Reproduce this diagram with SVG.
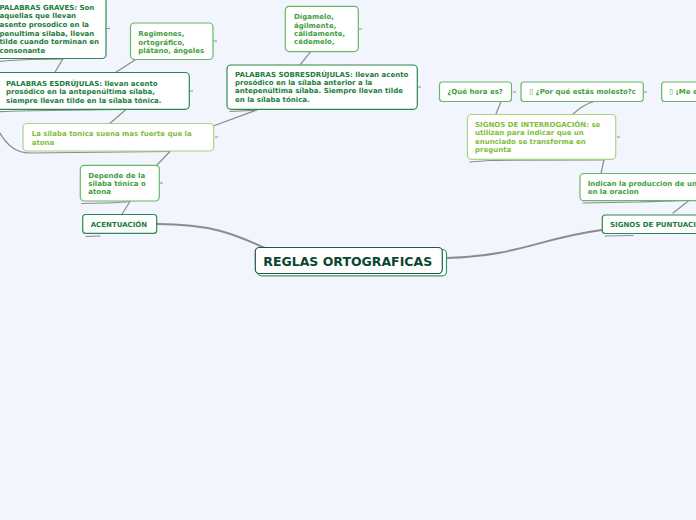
<svg xmlns="http://www.w3.org/2000/svg" width="696" height="520" viewBox="0 0 696 520">
<style>
text{font-family:"DejaVu Sans",Verdana,sans-serif;font-weight:bold;font-size:7px}
.dk rect{fill:#fff;stroke:#2a8a4e;stroke-width:1.2}
.dk text{fill:#1b7d3d}
.md rect{fill:#fff;stroke:#66b866;stroke-width:1.2}
.md text{fill:#3f9f40}
.lt rect{fill:#fff;stroke:#a9d482;stroke-width:1.2}
.lt text{fill:#82bd3a}
.c path{fill:none;stroke:#8c8c8c;stroke-width:1.2;stroke-linecap:round}
.c .main{stroke-width:2}
.tk{stroke:#8c8c8c;stroke-width:1}
</style>
<rect width="696" height="520" fill="#f2f5fe"/>
<g id="connectors" class="c">
<path class="main" d="M157,224 C215,224 238,236 265,248"/>
<path class="main" d="M446,258 C520,256 540,238 602,230"/>
<path d="M86,236.5 L100,236"/>
<path d="M605,236 L633,235.5"/>
<path d="M673,213 L689,200.5"/>
<path d="M583,203 L640,202 C665,201 680,201 689,200"/>
<path d="M601,173 L604,160"/>
<path d="M470,162 L490,160.5 C500,160 600,160 604,160"/>
<path d="M496,114 L501,101.5"/>
<path d="M573,114 C580,108 585,104 594,101.5"/>
<path d="M122,214 L130,201.5"/>
<path d="M82,203.5 L106,203 C120,202.5 126,202 130,201.5"/>
<path d="M157,165 L170,151.5"/>
<path d="M-4,126 C6,146 16,153 30,153 L170,151.5"/>
<path d="M110,123.3 L126,109.5"/>
<path d="M-4,112 C5,111 20,110.5 126,109.5"/>
<path d="M214,125.7 L256.7,110"/>
<path d="M230,111.5 L256.7,110"/>
<path d="M55,72.3 L62.7,59"/>
<path d="M-4,62 C5,60 20,59.5 62.7,59"/>
<path d="M115,72.7 L135,60"/>
<path d="M300.7,64 L310.7,51.7"/>
</g>
<g id="ticks">
<path class="tk" d="M107,28.5h3M214,41h3M190,91h3M215,137h3M160,183h3M359,29h3M418,87h3M513,92h3M644,92h3M617,137h3"/>
</g>
<g id="n-graves" class="dk">
<rect x="-8" y="-3" width="114" height="61.5" rx="4"/>
<text><tspan x="-0.5" y="9.8">PALABRAS GRAVES: Son</tspan><tspan x="-0.5" y="18.4">aquellas que llevan</tspan><tspan x="-0.5" y="27">asento prosodico en la</tspan><tspan x="-0.5" y="35.6">penultima silaba, llevan</tspan><tspan x="-0.5" y="44.2">tilde cuando terminan en</tspan><tspan x="-0.5" y="52.8">consonante</tspan></text>
</g>
<g id="n-regimenes" class="md">
<rect x="130.5" y="23" width="82.5" height="36.5" rx="4"/>
<text><tspan x="138.3" y="36.2">Regimenes,</tspan><tspan x="138.3" y="44.7">ortográfico,</tspan><tspan x="138.3" y="53.2">plátano, ángeles</tspan></text>
</g>
<g id="n-esdrujulas" class="dk">
<rect x="-4" y="72.5" width="193.3" height="36.8" rx="4"/>
<text><tspan x="6" y="85.8">PALABRAS ESDRÚJULAS: llevan acento</tspan><tspan x="6" y="94.3">prosódico en la antepenúltima sílaba,</tspan><tspan x="6" y="102.8">siempre llevan tilde en la sílaba tónica.</tspan></text>
</g>
<g id="n-silaba" class="lt">
<rect x="23" y="123.5" width="190.7" height="27.5" rx="4"/>
<text><tspan x="31.7" y="136.4">La silaba tonica suena mas fuerte que la</tspan><tspan x="31.7" y="144.7">atona</tspan></text>
</g>
<g id="n-depende" class="md">
<rect x="80.3" y="165.3" width="79" height="35.7" rx="4"/>
<text><tspan x="88.3" y="177.5">Depende de la</tspan><tspan x="88.3" y="185.9">silaba tónica o</tspan><tspan x="88.3" y="194.2">atona</tspan></text>
</g>
<g id="n-acentuacion" class="dk">
<rect x="82.7" y="214.5" width="74" height="18.8" rx="3"/>
<text x="90.7" y="227.2">ACENTUACIÓN</text>
</g>
<g id="n-root">
<rect x="257.5" y="249.5" width="189" height="26.3" rx="4" fill="#fff" stroke="#3a9a66" stroke-width="1.2"/>
<rect x="255.3" y="247.5" width="187" height="26" rx="4" fill="#fff" stroke="#1f5a40" stroke-width="1.2"/>
<text x="263.3" y="266.3" style="font-size:12.5px;fill:#0b4630">REGLAS ORTOGRAFICAS</text>
</g>
<g id="n-digamelo" class="md">
<rect x="285.3" y="6.3" width="73" height="45.3" rx="4"/>
<text><tspan x="294" y="19.2">Dígamelo,</tspan><tspan x="294" y="27.5">ágilmente,</tspan><tspan x="294" y="35.8">cálidamente,</tspan><tspan x="294" y="44.2">cédemelo,</tspan></text>
</g>
<g id="n-sobresdrujulas" class="dk">
<rect x="227" y="65" width="190.3" height="44.3" rx="4"/>
<text><tspan x="235" y="76.5">PALABRAS SOBRESDRÚJULAS: llevan acento</tspan><tspan x="235" y="84.8">prosódico en la sílaba anterior a la</tspan><tspan x="235" y="93.2">antepenúltima sílaba. Siempre llevan tilde</tspan><tspan x="235" y="101.7">en la sílaba tónica.</tspan></text>
</g>
<g id="n-quehora" class="md">
<rect x="439.5" y="82" width="72" height="19.5" rx="3"/>
<text x="447.3" y="94.2">¿Qué hora es?</text>
</g>
<g id="n-porque" class="md">
<rect x="521" y="82" width="122.3" height="19.5" rx="3"/>
<text x="529.3" y="94.2">▯ ¿Por qué estás molesto?c</text>
</g>
<g id="n-me" class="md">
<rect x="661.7" y="82" width="60" height="19.5" rx="3"/>
<text x="669.3" y="94.2">▯ ¡Me e</text>
</g>
<g id="n-interrogacion" class="lt">
<rect x="467.5" y="114.5" width="148.2" height="44.8" rx="4"/>
<text><tspan x="475" y="126.5">SIGNOS DE INTERROGACIÓN: se</tspan><tspan x="475" y="135.1">utilizan para indicar que un</tspan><tspan x="475" y="143.6">enunciado se transforma en</tspan><tspan x="475" y="152.2">pregunta</tspan></text>
</g>
<g id="n-indican" class="md">
<rect x="580" y="173.5" width="140" height="27.2" rx="4"/>
<text><tspan x="587.7" y="186.4">Indican la produccion de un</tspan><tspan x="587.7" y="194.2">en la oracion</tspan></text>
</g>
<g id="n-puntuacion" class="dk">
<rect x="602.3" y="215" width="120" height="18.5" rx="3"/>
<text x="610" y="226.8">SIGNOS DE PUNTUACIÓN</text>
</g>
</svg>
